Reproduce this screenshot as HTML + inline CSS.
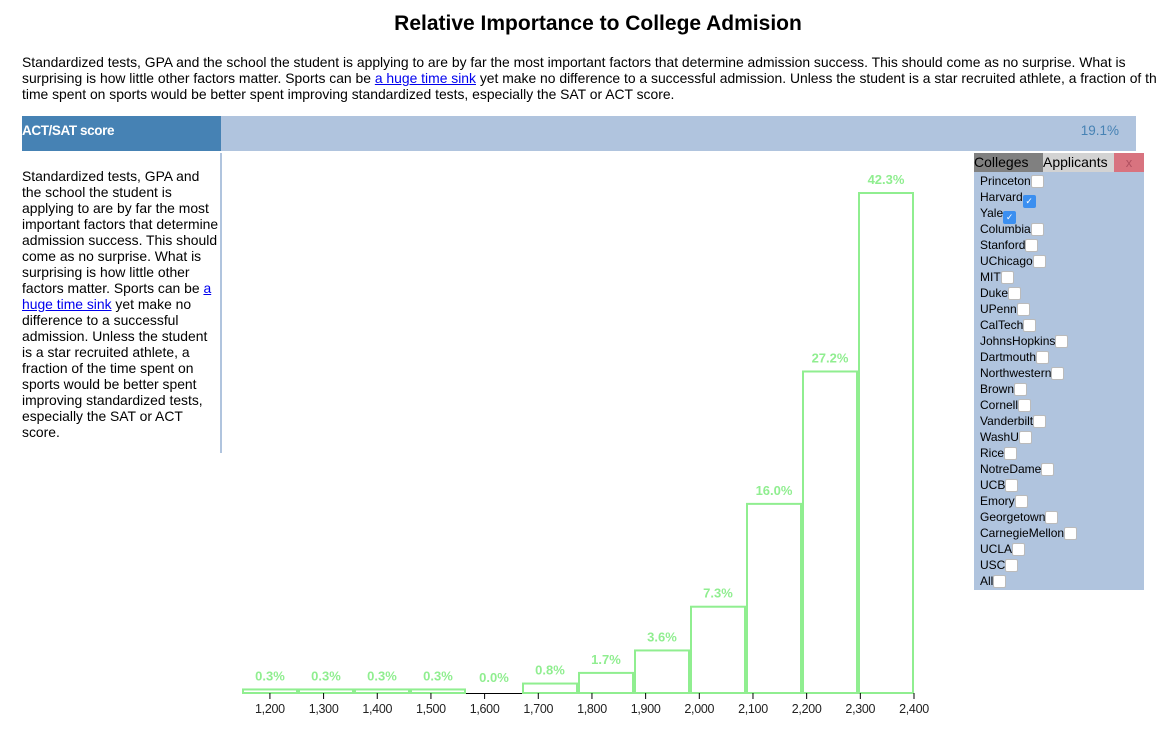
<!DOCTYPE html>
<html><head><meta charset="utf-8"><style>
body{margin:0;width:1156px;height:748px;overflow:hidden;background:#fff;font-family:"Liberation Sans",Arial,sans-serif;position:relative;color:#000}
.abs{position:absolute}
#title{left:0;width:1196px;top:12px;text-align:center;font-weight:bold;font-size:21px}
#intro{left:22px;top:54px;width:1140px;font-size:13.9px;line-height:16px;white-space:nowrap;overflow:hidden}
a{color:#00e;text-decoration:underline}
#side{left:22px;top:168px;width:197px;font-size:13.9px;line-height:16px}
.item{position:absolute;left:980px;font-size:12px;line-height:14px;font-family:"Liberation Sans",sans-serif}
.cb{display:inline-block;width:11px;height:11px;background:#fff;border-radius:2px;vertical-align:-3px;border:0.5px solid #bbb}
.cb.on{background:#3b8ff0;border-color:#3b8ff0;color:#fff;font-size:9px;line-height:11px;text-align:center}
</style></head><body>
<div class="abs" id="title">Relative Importance to College Admision</div>
<div class="abs" id="intro">Standardized tests, GPA and the school the student is applying to are by far the most important factors that determine admission success. This should come as no surprise. What is<br>surprising is how little other factors matter. Sports can be <a>a huge time sink</a> yet make no difference to a successful admission. Unless the student is a star recruited athlete, a fraction of the<br>time spent on sports would be better spent improving standardized tests, especially the SAT or ACT score.</div>
<div class="abs" style="left:22px;top:116px;width:199px;height:35px;background:#4682b4;color:#fff;font-weight:bold;font-size:13.5px;line-height:30px;letter-spacing:-0.4px">ACT/SAT score</div>
<div class="abs" style="left:221px;top:116px;width:915px;height:35px;background:#b0c4de"></div>
<div class="abs" style="left:1050px;top:116px;width:69px;text-align:right;line-height:30px;font-size:13.5px;color:#4682b4">19.1%</div>
<div class="abs" style="left:220px;top:153px;width:2px;height:300px;background:#b0c4de"></div>
<div class="abs" id="side">Standardized tests, GPA and the school the student is applying to are by far the most important factors that determine admission success. This should come as no surprise. What is surprising is how little other factors matter. Sports can be <a>a huge time sink</a> yet make no difference to a successful admission. Unless the student is a star recruited athlete, a fraction of the time spent on sports would be better spent improving standardized tests, especially the SAT or ACT score.</div>
<svg class="abs" style="left:0;top:0" width="1156" height="748" id="chart"></svg>
<div class="abs" style="left:974px;top:153px;width:170px;height:437px;background:#b0c4de"></div>
<div class="abs" style="left:974px;top:153px;width:69px;height:19px;background:#808080;font-size:14px;line-height:19px">Colleges</div>
<div class="abs" style="left:1043px;top:153px;width:71px;height:19px;background:#d3d3d3;font-size:14px;line-height:19px">Applicants</div>
<div class="abs" style="left:1114px;top:153px;width:30px;height:19px;background:#d8737f;color:#b05060;font-size:13px;line-height:19px;text-align:center">x</div>
<div id="list"></div>
<script>
const colleges=["Princeton","Harvard","Yale","Columbia","Stanford","UChicago","MIT","Duke","UPenn","CalTech","JohnsHopkins","Dartmouth","Northwestern","Brown","Cornell","Vanderbilt","WashU","Rice","NotreDame","UCB","Emory","Georgetown","CarnegieMellon","UCLA","USC","All"];
const checked=["Harvard","Yale"];
const list=document.getElementById('list');
colleges.forEach((c,i)=>{
  const d=document.createElement('div');
  d.className='item';
  d.style.top=(174+i*16)+'px';
  
  
  const on=checked.includes(c);
  d.innerHTML=c+'<span class="cb'+(on?' on':'')+'">'+(on?'✓':'')+'</span>';
  list.appendChild(d);
});

const binValues=[0.3,0.3,0.3,0.3,0.0,0.8,1.7,3.6,7.3,16.0,27.2,42.3];
const binLabels=["0.3%","0.3%","0.3%","0.3%","0.0%","0.8%","1.7%","3.6%","7.3%","16.0%","27.2%","42.3%"];
const tickValues=[1200,1300,1400,1500,1600,1700,1800,1900,2000,2100,2200,2300,2400];
const NS='http://www.w3.org/2000/svg';
const svg=document.getElementById('chart');
const x0=242,x1=914,base=693,maxH=500,maxV=42.3;
const bw=(x1-x0)/binValues.length;
const xBin=i=>x0+i*bw;
const y=v=>base-v/maxV*maxH;
const xTick=v=>x0+(v-1148)/(2400-1148)*(x1-x0);
function mk(t,a){const e=document.createElementNS(NS,t);for(const k in a)e.setAttribute(k,a[k]);svg.appendChild(e);return e;}
const ax=mk('line',{x1:x0,x2:x1,y1:base+0.5,y2:base+0.5,stroke:'#000','stroke-width':1});


binValues.forEach((v,i)=>{
  if(v>0){
    const r=mk('rect',{x:xBin(i)+1,y:y(v),width:bw-2,height:base-y(v),fill:'#fff',stroke:'#90ee90','stroke-width':2});
    
    
  }
  const t=mk('text',{x:xBin(i)+bw/2,y:Math.min(y(v),base-2)-9,'text-anchor':'middle',fill:'#90ee90','font-size':13,'font-weight':'bold','font-family':'Liberation Sans, sans-serif'});
  t.textContent=binLabels[i];
  
  
});
tickValues.forEach(v=>{
  const tx=xTick(v);
  const l=mk('line',{x1:tx,x2:tx,y1:base,y2:base+6,stroke:'#000'});
  
  
  const t=mk('text',{x:tx,y:base+20,'text-anchor':'middle','font-size':12.5,fill:'#222','letter-spacing':'-0.3','font-family':'Liberation Sans, sans-serif'});
  t.textContent=v.toLocaleString('en-US');
  
  
});
</script>
</body></html>
